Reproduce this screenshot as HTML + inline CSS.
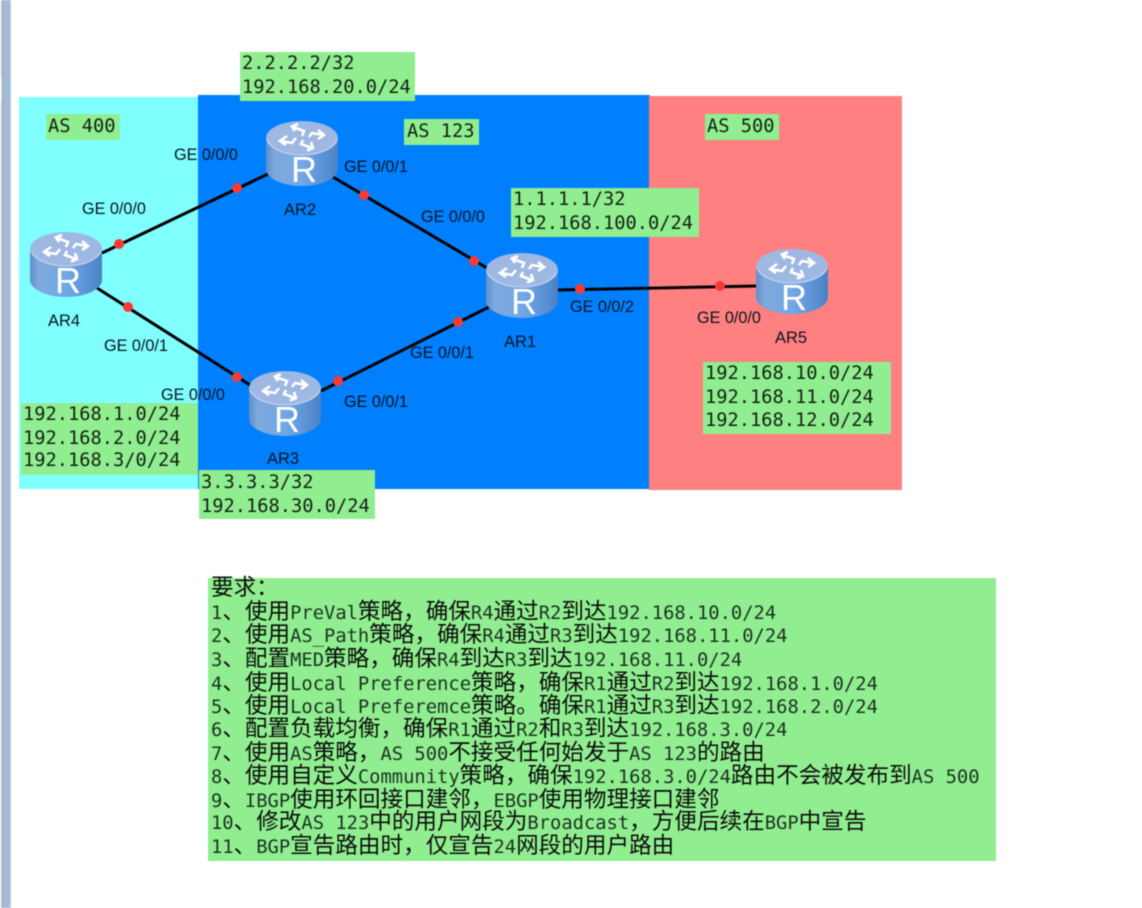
<!DOCTYPE html>
<html lang="zh">
<head>
<meta charset="utf-8">
<title>BGP</title>
<style>
html,body{margin:0;padding:0;background:#fff;width:1142px;height:908px;overflow:hidden}
svg{display:block;filter:blur(.45px)}
.l{font-family:"Liberation Sans",Arial,sans-serif;font-size:16.2px;fill:#08141e}
.n{font-family:"Liberation Sans",Arial,sans-serif;font-size:16.5px;fill:#08141e}
.m{font-family:"DejaVu Sans Mono","Liberation Mono",monospace;font-size:18.7px;fill:#142214}
.r{font-family:"Liberation Sans",Arial,sans-serif;font-size:36px;fill:#fff}
.q{font-family:"DejaVu Sans Mono","WenQuanYi Zen Hei","Noto Sans CJK SC",monospace;font-size:22.6px;fill:#0c0c0c}
.q tspan{font-size:18.8px;fill:#1c3222}
</style>
</head>
<body>
<svg width="1142" height="908" viewBox="0 0 1142 908" xmlns="http://www.w3.org/2000/svg">
<defs>
<linearGradient id="b" x1="0" x2="1" y1="0" y2="0">
<stop offset="0" stop-color="#5d8fcb"/><stop offset=".12" stop-color="#7fa9dc"/><stop offset=".5" stop-color="#72a8e6"/><stop offset=".88" stop-color="#558cd0"/><stop offset="1" stop-color="#4a80c4"/>
</linearGradient>
<g id="rt">
<path d="M0 17V48C0 57 16 65 36 65S72 57 72 48V17Z" fill="url(#b)"/>
<ellipse cx="36" cy="17" rx="36" ry="17" fill="#9fb8e2"/>
<path d="M1 19C5 28 19 34 36 34S67 28 71 19" fill="none" stroke="#c6d6f0" stroke-width="1"/>
<g fill="none" stroke="#fff" stroke-width="2.6" stroke-linejoin="miter">
<path d="M36 15L38 10L27 6"/><path d="M32 3L26 5.5L29 10"/>
<path d="M43 16L46 12L57 14"/><path d="M52 9L58 14L52 18"/>
<path d="M30 17L26 22L15 20"/><path d="M21 15L14 20L20 24"/>
<path d="M37 19L35 23L46 27"/><path d="M41 29.5L47 27L45 21"/>
</g>
</g>
</defs>

<rect width="1142" height="908" fill="#fff"/>
<rect x="0" y="0" width="2" height="908" fill="#dfe6ee"/>
<rect x="2" y="0" width="1" height="908" fill="#8d9fb3"/>
<rect x="3" y="0" width="7" height="908" fill="#a3bcd6"/>
<rect x="10" y="0" width="1" height="908" fill="#bccbdc"/>
<rect x="0" y="78" width="2" height="24" fill="#f4f4f4"/>

<rect x="19" y="97" width="179" height="392" fill="#80ffff"/>
<rect x="198" y="95" width="452" height="394" fill="#0080ff"/>
<rect x="649" y="96" width="253" height="394" fill="#ff8080"/>

<g fill="#90ee90">
<rect x="240" y="52" width="175" height="49"/>
<rect x="46" y="114" width="74" height="26"/>
<rect x="404" y="119" width="75" height="26"/>
<rect x="705" y="114" width="74" height="26"/>
<rect x="511" y="188" width="188" height="49"/>
<rect x="703" y="362" width="188" height="72"/>
<rect x="21" y="403" width="177" height="72"/>
<rect x="199" y="470" width="176" height="49"/>
<rect x="208" y="578" width="788" height="283"/>
</g>

<g stroke="#000" stroke-width="3" fill="none">
<path d="M102 253L268 174"/>
<path d="M333 177L487 268"/>
<path d="M97 288L250 385"/>
<path d="M321 391L489 307"/>
<path d="M558 290L756 286"/>
</g>

<g fill="#f83a30">
<circle cx="119" cy="244" r="5"/>
<circle cx="237" cy="188" r="5"/>
<circle cx="364" cy="195" r="5"/>
<circle cx="474" cy="261" r="5"/>
<circle cx="128" cy="307" r="5"/>
<circle cx="237" cy="377" r="5"/>
<circle cx="338" cy="381" r="5"/>
<circle cx="458" cy="322" r="5"/>
<circle cx="580" cy="289" r="5"/>
<circle cx="720" cy="286" r="5"/>
</g>

<use href="#rt" x="266" y="121"/><text class="r" x="304" y="182" text-anchor="middle">R</text>
<use href="#rt" x="30" y="232"/><text class="r" x="68" y="293" text-anchor="middle">R</text>
<use href="#rt" x="249" y="371"/><text class="r" x="287" y="432" text-anchor="middle">R</text>
<use href="#rt" x="486" y="253"/><text class="r" x="524" y="314" text-anchor="middle">R</text>
<use href="#rt" x="756" y="249"/><text class="r" x="794" y="310" text-anchor="middle">R</text>

<text class="l" x="174" y="160">GE 0/0/0</text>
<text class="l" x="82" y="214">GE 0/0/0</text>
<text class="l" x="344" y="172">GE 0/0/1</text>
<text class="l" x="421" y="222">GE 0/0/0</text>
<text class="l" x="104" y="351">GE 0/0/1</text>
<text class="l" x="161" y="400">GE 0/0/0</text>
<text class="l" x="344" y="407">GE 0/0/1</text>
<text class="l" x="410" y="358">GE 0/0/1</text>
<text class="l" x="570" y="312">GE 0/0/2</text>
<text class="l" x="697" y="323">GE 0/0/0</text>

<text class="n" x="284" y="215">AR2</text>
<text class="n" x="48" y="326">AR4</text>
<text class="n" x="267" y="464">AR3</text>
<text class="n" x="504" y="347">AR1</text>
<text class="n" x="775" y="343">AR5</text>

<text class="m" x="242" y="69">2.2.2.2/32</text>
<text class="m" x="242" y="93">192.168.20.0/24</text>
<text class="m" x="48" y="132">AS 400</text>
<text class="m" x="407" y="137">AS 123</text>
<text class="m" x="707" y="132">AS 500</text>
<text class="m" x="513" y="205">1.1.1.1/32</text>
<text class="m" x="513" y="229">192.168.100.0/24</text>
<text class="m" x="705" y="379">192.168.10.0/24</text>
<text class="m" x="705" y="403">192.168.11.0/24</text>
<text class="m" x="705" y="426">192.168.12.0/24</text>
<text class="m" x="23" y="420">192.168.1.0/24</text>
<text class="m" x="23" y="444">192.168.2.0/24</text>
<text class="m" x="23" y="466">192.168.3/0/24</text>
<text class="m" x="201" y="488">3.3.3.3/32</text>
<text class="m" x="201" y="512">192.168.30.0/24</text>

<text class="q" x="211" y="595">要求：</text>
<text class="q" x="211" y="619"><tspan>1</tspan>、使用<tspan>PreVal</tspan>策略，确保<tspan>R4</tspan>通过<tspan>R2</tspan>到达<tspan>192.168.10.0/24</tspan></text>
<text class="q" x="211" y="642"><tspan>2</tspan>、使用<tspan>AS_Path</tspan>策略，确保<tspan>R4</tspan>通过<tspan>R3</tspan>到达<tspan>192.168.11.0/24</tspan></text>
<text class="q" x="211" y="666"><tspan>3</tspan>、配置<tspan>MED</tspan>策略，确保<tspan>R4</tspan>到达<tspan>R3</tspan>到达<tspan>192.168.11.0/24</tspan></text>
<text class="q" x="211" y="690"><tspan>4</tspan>、使用<tspan>Local Preference</tspan>策略，确保<tspan>R1</tspan>通过<tspan>R2</tspan>到达<tspan>192.168.1.0/24</tspan></text>
<text class="q" x="211" y="713"><tspan>5</tspan>、使用<tspan>Local Preferemce</tspan>策略。确保<tspan>R1</tspan>通过<tspan>R3</tspan>到达<tspan>192.168.2.0/24</tspan></text>
<text class="q" x="211" y="736"><tspan>6</tspan>、配置负载均衡，确保<tspan>R1</tspan>通过<tspan>R2</tspan>和<tspan>R3</tspan>到达<tspan>192.168.3.0/24</tspan></text>
<text class="q" x="211" y="760"><tspan>7</tspan>、使用<tspan>AS</tspan>策略，<tspan>AS 500</tspan>不接受任何始发于<tspan>AS 123</tspan>的路由</text>
<text class="q" x="211" y="783"><tspan>8</tspan>、使用自定义<tspan>Community</tspan>策略，确保<tspan>192.168.3.0/24</tspan>路由不会被发布到<tspan>AS 500</tspan></text>
<text class="q" x="211" y="807"><tspan>9</tspan>、<tspan>IBGP</tspan>使用环回接口建邻，<tspan>EBGP</tspan>使用物理接口建邻</text>
<text class="q" x="211" y="829"><tspan>10</tspan>、修改<tspan>AS 123</tspan>中的用户网段为<tspan>Broadcast</tspan>，方便后续在<tspan>BGP</tspan>中宣告</text>
<text class="q" x="211" y="853"><tspan>11</tspan>、<tspan>BGP</tspan>宣告路由时，仅宣告<tspan>24</tspan>网段的用户路由</text>
</svg>
</body>
</html>
